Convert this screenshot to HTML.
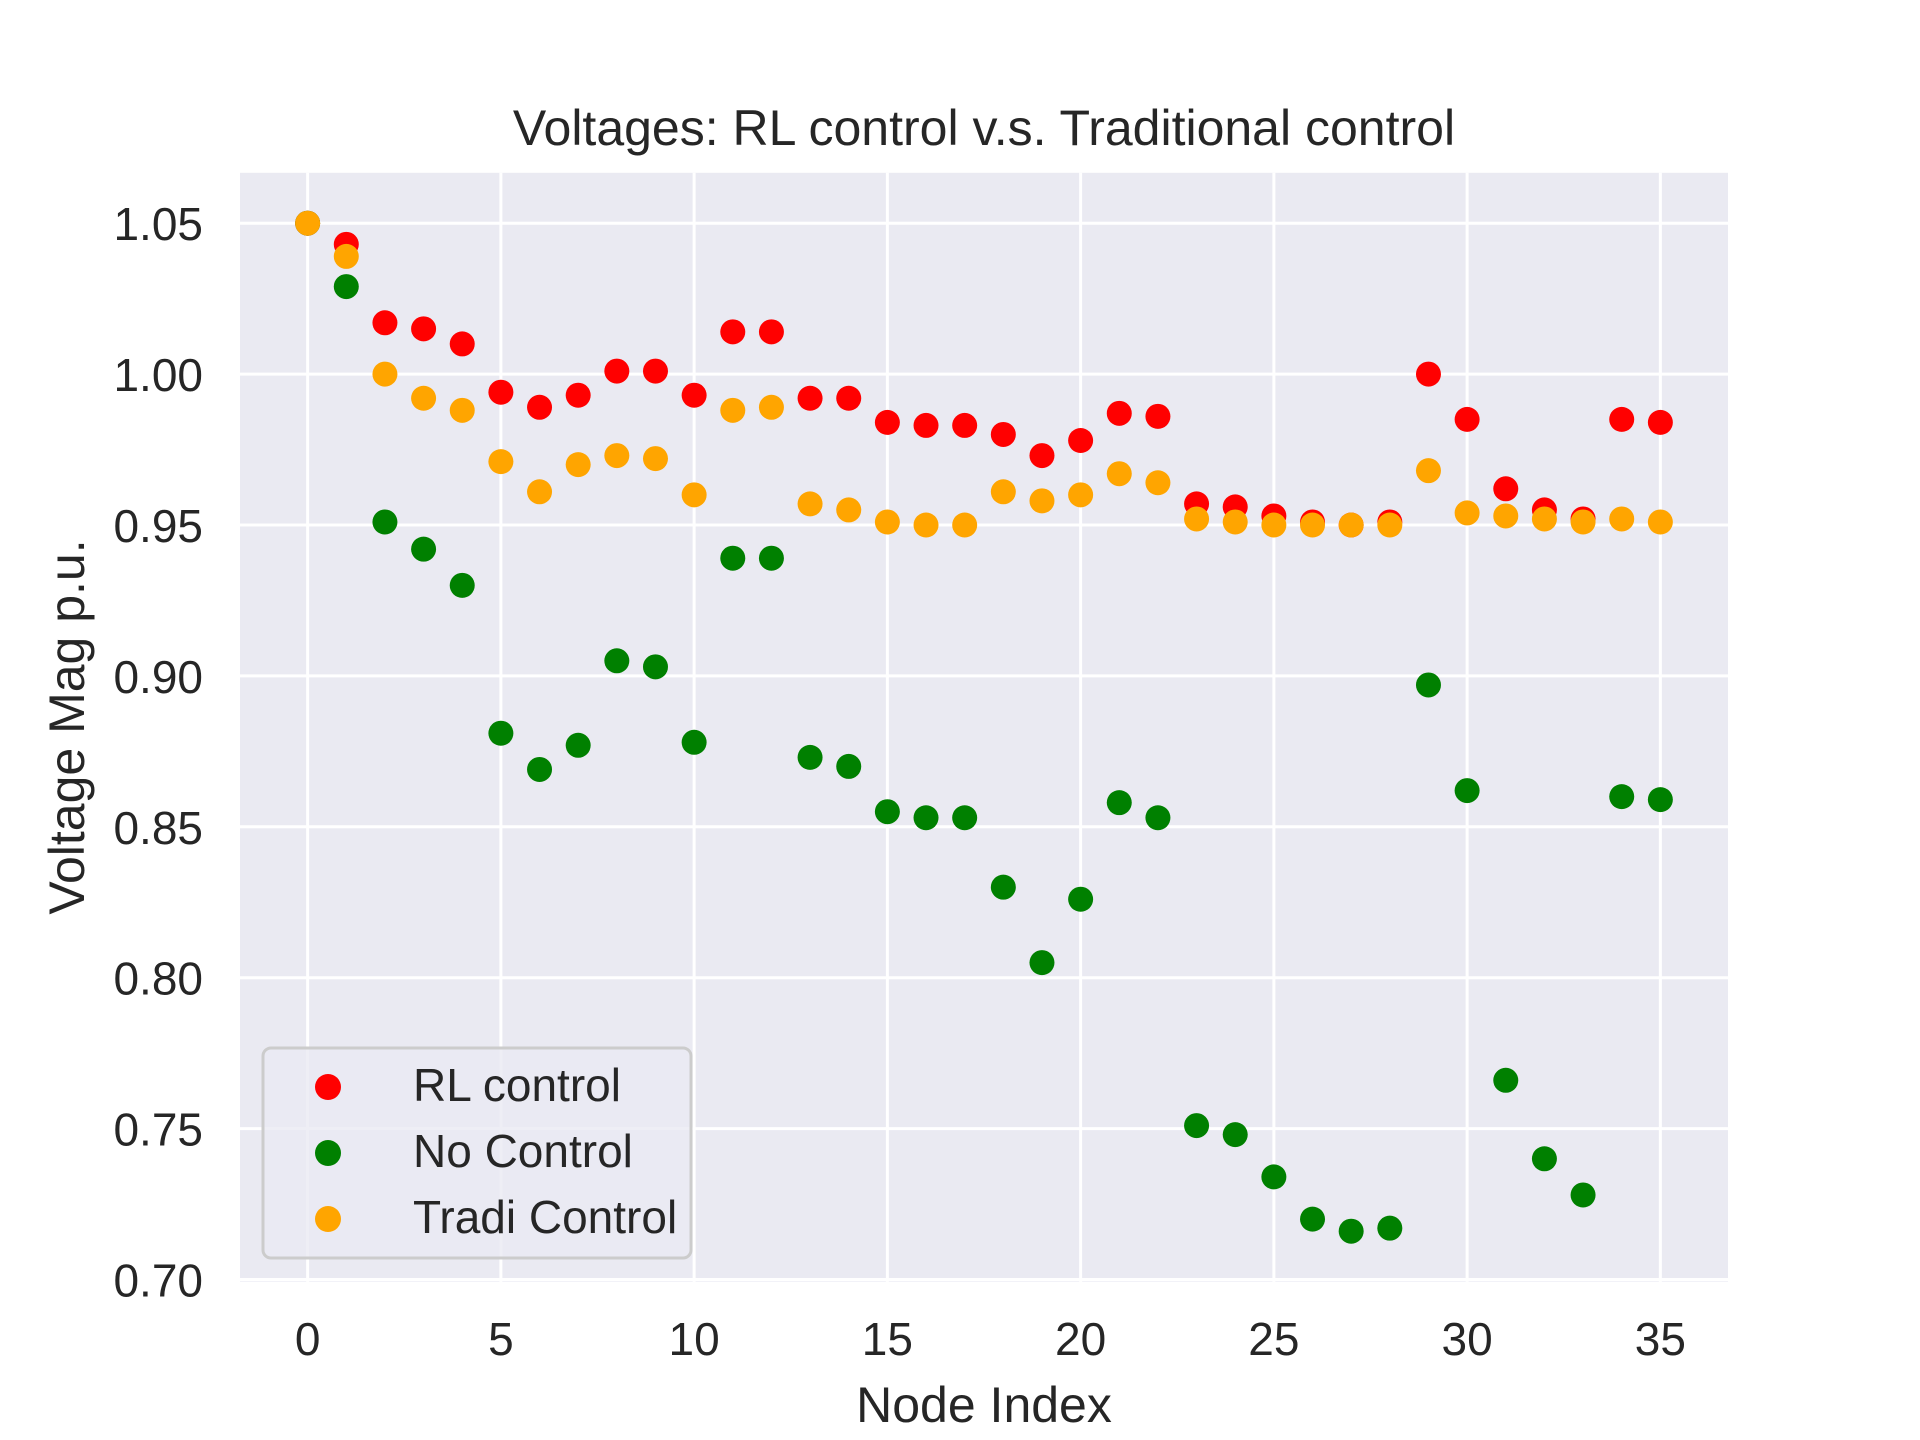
<!DOCTYPE html>
<html><head><meta charset="utf-8"><style>
html,body{margin:0;padding:0;background:#fff}
svg{display:block;font-family:"Liberation Sans",Arial,sans-serif}
</style></head><body>
<svg id="chart" width="1920" height="1440" viewBox="0 0 1920 1440">
<rect x="0" y="0" width="1920" height="1440" fill="#fff"/>
<text x="984" y="145" font-size="50" fill="#262626" text-anchor="middle">Voltages: RL control v.s. Traditional control</text>
<rect x="240" y="172.8" width="1488" height="1108.8" fill="#eaeaf2"/>
<g id="grid"></g><g id="xticks"></g><g id="yticks"></g><g id="marks"></g>
<text x="984" y="1422" font-size="50" fill="#262626" text-anchor="middle">Node Index</text>
<text transform="translate(84,727) rotate(-90)" font-size="50" fill="#262626" text-anchor="middle">Voltage Mag p.u.</text>
<g>
<rect x="263" y="1048" width="428" height="210" rx="8" fill="#eaeaf2" fill-opacity="0.8" stroke="#cccccc" stroke-width="3"/>
<circle cx="328" cy="1087" r="13" fill="#ff0000"/>
<text x="413" y="1101" font-size="46" fill="#262626">RL control</text>
<circle cx="328" cy="1153" r="13" fill="#008000"/>
<text x="413" y="1167" font-size="46" fill="#262626">No Control</text>
<circle cx="328" cy="1219" r="13" fill="#ffa500"/>
<text x="413" y="1233" font-size="46" fill="#262626">Tradi Control</text>
</g>
</svg>
<script>
const rlValues=[1.05,1.043,1.017,1.015,1.010,0.994,0.989,0.993,1.001,1.001,0.993,1.014,1.014,0.992,0.992,0.984,0.983,0.983,0.980,0.973,0.978,0.987,0.986,0.957,0.956,0.953,0.951,0.950,0.951,1.000,0.985,0.962,0.955,0.952,0.985,0.984];
const noValues=[1.05,1.029,0.951,0.942,0.930,0.881,0.869,0.877,0.905,0.903,0.878,0.939,0.939,0.873,0.870,0.855,0.853,0.853,0.830,0.805,0.826,0.858,0.853,0.751,0.748,0.734,0.720,0.716,0.717,0.897,0.862,0.766,0.740,0.728,0.860,0.859];
const tradiValues=[1.05,1.039,1.000,0.992,0.988,0.971,0.961,0.970,0.973,0.972,0.960,0.988,0.989,0.957,0.955,0.951,0.950,0.950,0.961,0.958,0.960,0.967,0.964,0.952,0.951,0.950,0.950,0.950,0.950,0.968,0.954,0.953,0.952,0.951,0.952,0.951];
const xTicks=[0,5,10,15,20,25,30,35];
const yTicks=[0.70,0.75,0.80,0.85,0.90,0.95,1.00,1.05];
const yTickLabels=["0.70","0.75","0.80","0.85","0.90","0.95","1.00","1.05"];
const NS="http://www.w3.org/2000/svg";
const L=240,R=1728,T=172.8,B=1281.6;
const xmin=-1.75,xmax=36.75,ymin=0.6993,ymax=1.0667;
function xs(v){return L+(v-xmin)/(xmax-xmin)*(R-L);}
function ys(v){return B-(v-ymin)/(ymax-ymin)*(B-T);}
function mk(tag,attrs,parent){const e=document.createElementNS(NS,tag);for(const k in attrs)e.setAttribute(k,attrs[k]);parent.appendChild(e);return e;}
const grid=document.getElementById('grid'),xt=document.getElementById('xticks'),yt=document.getElementById('yticks'),marks=document.getElementById('marks');
xTicks.forEach(t=>{
  const g=mk('line',{x1:xs(t),x2:xs(t),y1:T,y2:B,stroke:'#fff','stroke-width':3},grid);
  
  
  const tx=mk('text',{x:xs(t),y:1355,'font-size':46,fill:'#262626','text-anchor':'middle'},xt);
  tx.textContent=String(t);
  
  
});
yTicks.forEach((t,i)=>{
  const g=mk('line',{x1:L,x2:R,y1:ys(t),y2:ys(t),stroke:'#fff','stroke-width':3},grid);
  
  
  const tx=mk('text',{x:203,y:ys(t)+17,'font-size':46,fill:'#262626','text-anchor':'end'},yt);
  tx.textContent=yTickLabels[i];
  
  
});
[[rlValues,'#ff0000','rl-point'],[noValues,'#008000','no-control-point'],[tradiValues,'#ffa500','tradi-point']].forEach(([arr,col,name])=>{
  arr.forEach((v,i)=>{
    const c=mk('circle',{cx:xs(i),cy:ys(v),r:12.5,fill:col},marks);
    
    
  });
});
</script>
</body></html>
